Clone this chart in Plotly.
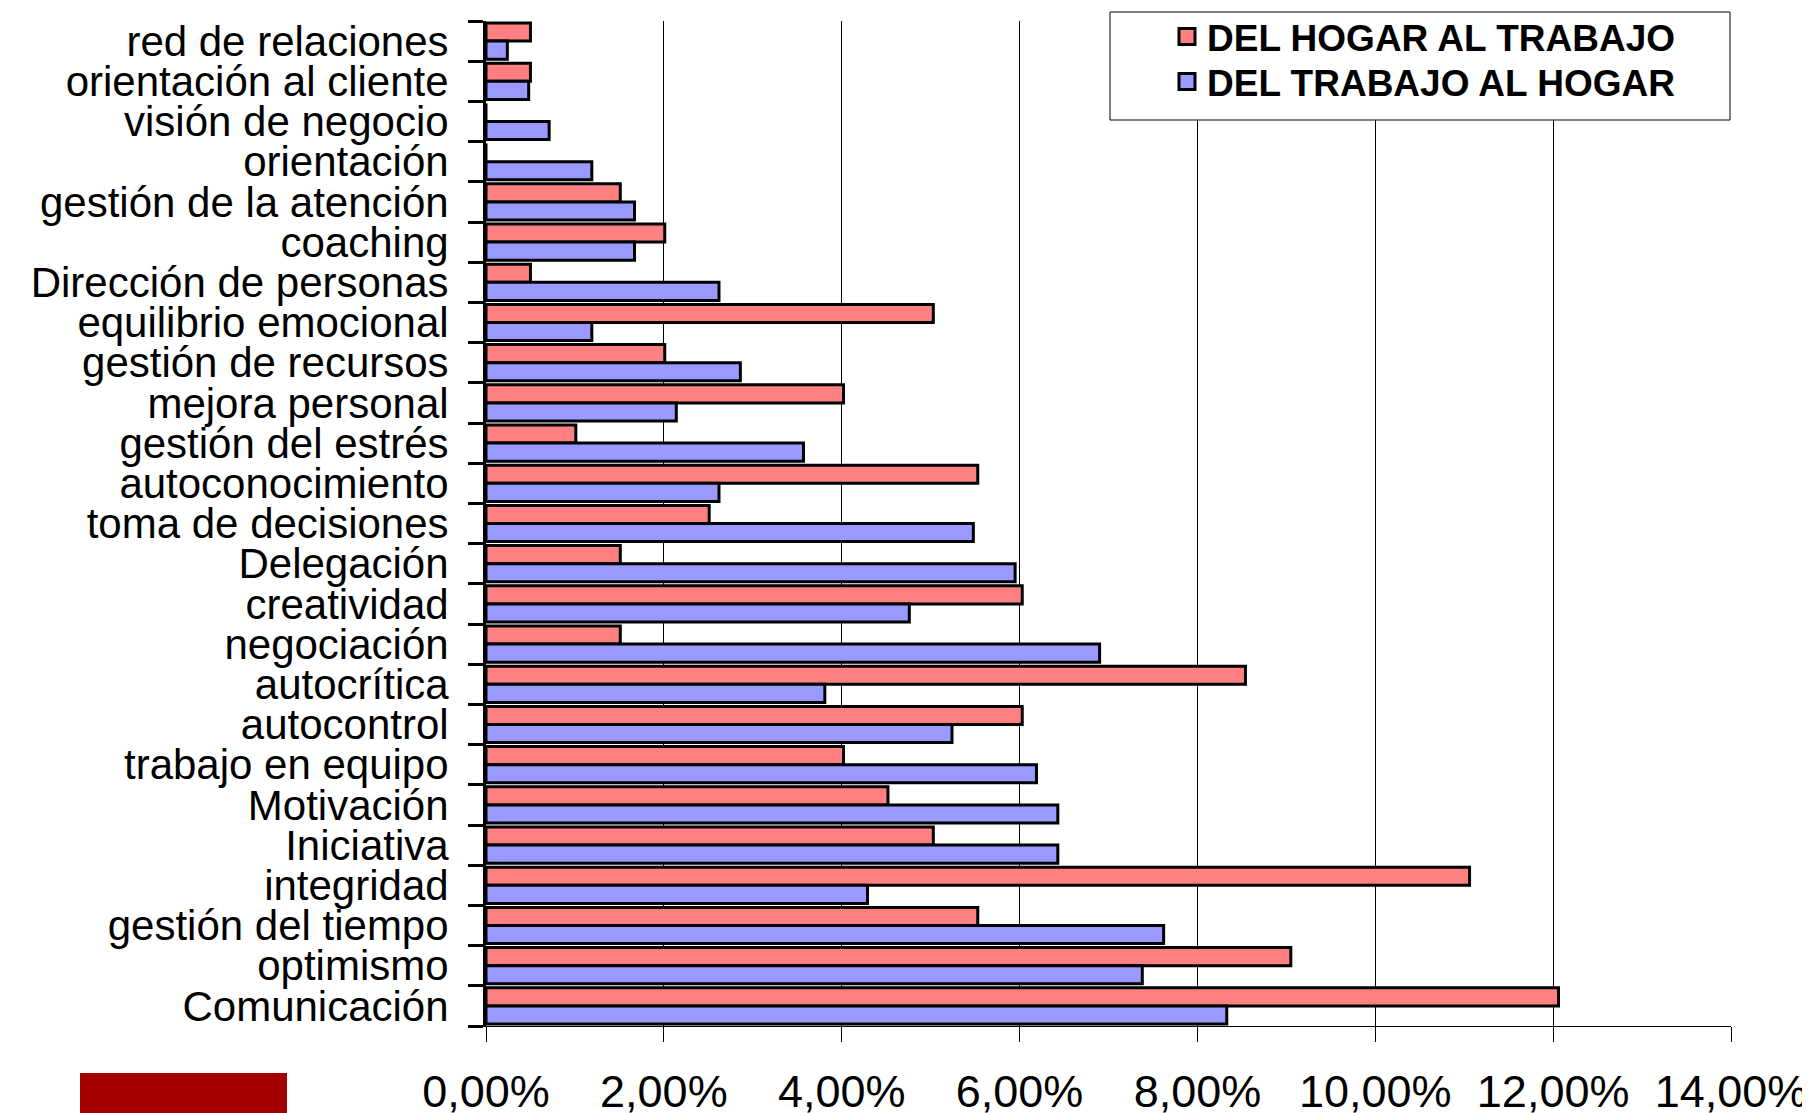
import plotly.graph_objects as go

categories = [
    "red de relaciones", "orientación al cliente", "visión de negocio", "orientación",
    "gestión de la atención", "coaching", "Dirección de personas", "equilibrio emocional",
    "gestión de recursos", "mejora personal", "gestión del estrés", "autoconocimiento",
    "toma de decisiones", "Delegación", "creatividad", "negociación", "autocrítica",
    "autocontrol", "trabajo en equipo", "Motivación", "Iniciativa", "integridad",
    "gestión del tiempo", "optimismo", "Comunicación",
]
hogar_trabajo = [
    0.50, 0.50, 0.0, 0.0, 1.51, 2.01, 0.50, 5.03, 2.01, 4.02, 1.01, 5.53,
    2.51, 1.51, 6.03, 1.51, 8.54, 6.03, 4.02, 4.52, 5.03, 11.06, 5.53, 9.05, 12.06,
]
trabajo_hogar = [
    0.24, 0.48, 0.71, 1.19, 1.67, 1.67, 2.62, 1.19, 2.86, 2.14, 3.57, 2.62,
    5.48, 5.95, 4.76, 6.90, 3.81, 5.24, 6.19, 6.43, 6.43, 4.29, 7.62, 7.38, 8.33,
]
series_names = ["DEL HOGAR AL TRABAJO", "DEL TRABAJO AL HOGAR"]
series_colors = ["#FF8080", "#9999FF"]
x_ticks = [0, 0.02, 0.04, 0.06, 0.08, 0.10, 0.12, 0.14]

FONT = "Liberation Sans, Arial, sans-serif"

# page body has an 8px margin; figure is sized/placed to compensate
W, H = 1802, 1105
L, T = 478, 13
PW, PH = 1245, 1005

fig = go.Figure()
for name, vals, col in zip(series_names, [hogar_trabajo, trabajo_hogar], series_colors):
    fig.add_trace(go.Bar(
        y=categories, x=[v / 100 for v in vals], orientation="h",
        name=name, showlegend=False,
        marker=dict(color=col, line=dict(color="black", width=3)),
    ))
# legend entries (square swatches), one legend per row
legend_ids = ["legend", "legend2"]
for name, col, lg in zip(series_names, series_colors, legend_ids):
    fig.add_trace(go.Scatter(
        x=[None], y=[None], mode="markers", name=name, legend=lg,
        marker=dict(symbol="square", size=16, color=col, line=dict(color="black", width=3)),
    ))

def px_x(x):
    return (x - 8 - L) / PW

def px_y(y):
    return 1 - (y - 8 - T) / PH

legend_style = dict(
    xanchor="left", yanchor="top",
    bgcolor="rgba(0,0,0,0)", borderwidth=0,
    font=dict(family=FONT, size=37, color="black", weight="bold"),
    itemsizing="trace",
)

fig.update_layout(
    width=W, height=H,
    margin=dict(l=L, r=W - L - PW, t=T, b=H - T - PH, autoexpand=False),
    paper_bgcolor="white", plot_bgcolor="white",
    barmode="group", bargap=0.1, bargroupgap=0,
    separators=", ",
    font=dict(family=FONT, size=40, color="black"),
    showlegend=True,
    legend=dict(x=px_x(1167), y=px_y(6), **legend_style),
    legend2=dict(x=px_x(1167), y=px_y(51), **legend_style),
    shapes=[
        dict(type="rect", xref="paper", yref="paper",
             x0=px_x(80), x1=px_x(287), y0=px_y(1113), y1=px_y(1073),
             fillcolor="#A50000", line=dict(width=0), layer="above"),
        dict(type="rect", xref="paper", yref="paper",
             x0=px_x(1110), x1=px_x(1730), y0=px_y(120), y1=px_y(12),
             fillcolor="white", line=dict(color="black", width=1), layer="above"),
    ],
)
fig.update_xaxes(
    range=[0, 0.14], tickvals=x_ticks, tickformat=".2%",
    showgrid=True, gridcolor="black", gridwidth=1,
    showline=True, linecolor="black", linewidth=1, mirror=False,
    ticks="outside", ticklen=15, tickcolor="black", tickwidth=1,
    ticklabelstandoff=11, zeroline=False,
    tickfont=dict(family=FONT, size=45, color="black"),
)
fig.update_yaxes(
    autorange="reversed", type="category",
    tickmode="array", tickvals=categories, ticktext=categories,
    showline=True, linecolor="black", linewidth=3,
    ticks="outside", tickson="boundaries", ticklen=15, tickwidth=3, tickcolor="black",
    ticklabelstandoff=26, showgrid=False,
    tickfont=dict(family=FONT, size=42, color="black"),
)

fig.write_html("out.html")
